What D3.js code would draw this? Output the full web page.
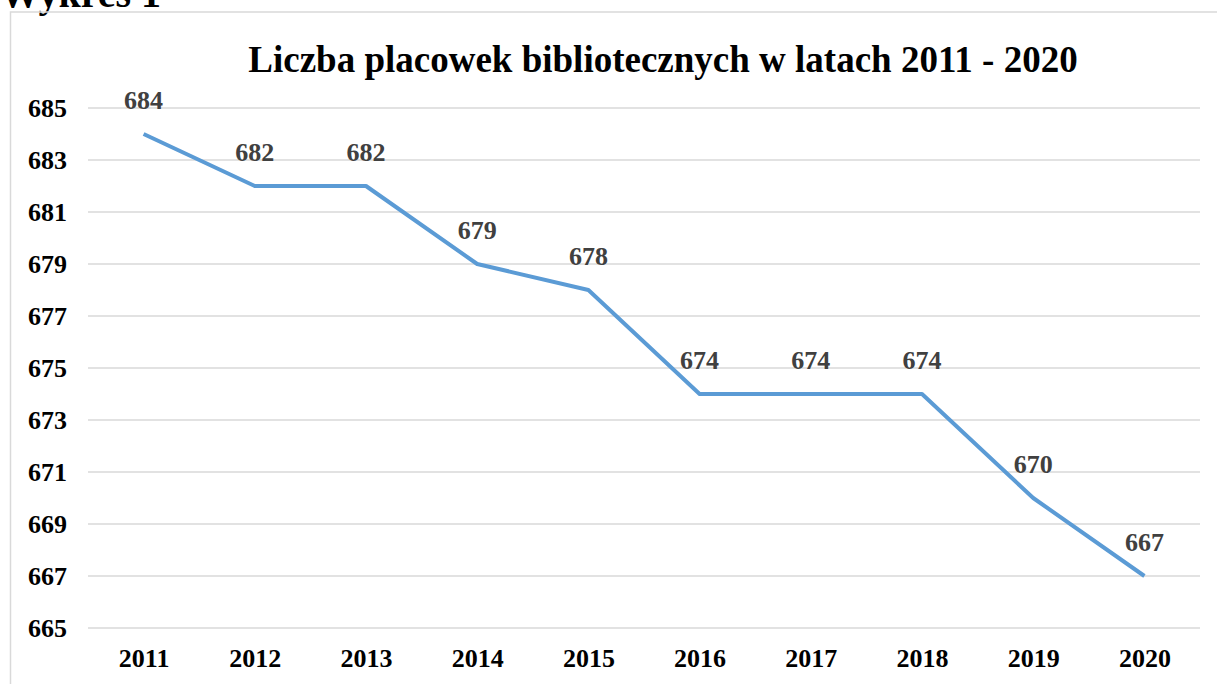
<!DOCTYPE html>
<html>
<head>
<meta charset="utf-8">
<script src="https://cdn.jsdelivr.net/npm/d3@7"></script>
<style>
  body { margin: 0; background: #fff; }
  svg { display: block; font-family: "Liberation Serif", "Times New Roman", serif; }
  .tick text { font-weight: bold; fill: #000; }
</style>
</head>
<body>
<div id="chart"></div>
<script>
// data
var years = ["2011", "2012", "2013", "2014", "2015", "2016", "2017", "2018", "2019", "2020"];
var values = [684, 682, 682, 679, 678, 674, 674, 674, 670, 667];
var yTicks = [665, 667, 669, 671, 673, 675, 677, 679, 681, 683, 685];

var width = 1217, height = 684;
var margin = { top: 108, right: 17, bottom: 56, left: 88 };

var svg = d3.select("#chart").append("svg")
    .attr("width", width)
    .attr("height", height);

// heading above the chart box (cut off at the top)
svg.append("text")
    .attr("x", 0)
    .attr("y", 7)
    .attr("font-size", 40)
    .attr("font-weight", "bold")
    .text("Wykres 1");

// chart border
svg.append("rect")
    .attr("x", 10.5)
    .attr("y", 12)
    .attr("width", width + 20)
    .attr("height", height + 20)
    .attr("fill", "none")
    .attr("stroke", "#d9d9d9")
    .attr("stroke-width", 1.5);

var g = svg.append("g")
    .attr("transform", "translate(" + margin.left + "," + margin.top + ")");

var w = width - margin.left - margin.right,
    h = height - margin.top - margin.bottom;

var x = d3.scalePoint()
    .domain(years)
    .range([0, w])
    .padding(0.5);

var y = d3.scaleLinear()
    .domain([665, 685])
    .range([h, 0]);

// gridlines
g.selectAll(".grid")
    .data(yTicks)
    .enter().append("line")
    .attr("class", "grid")
    .attr("x1", 0)
    .attr("x2", w)
    .attr("y1", function(d) { return y(d); })
    .attr("y2", function(d) { return y(d); })
    .attr("stroke", "#d9d9d9")
    .attr("stroke-width", 1.3);

// y axis labels
var yAxis = g.append("g")
    .call(d3.axisLeft(y).tickValues(yTicks).tickSize(0).tickPadding(21));
yAxis.select(".domain").remove();
yAxis.selectAll("text").attr("font-size", 26).attr("font-family", "Liberation Serif");

// x axis labels
var xAxis = g.append("g")
    .attr("transform", "translate(0," + h + ")")
    .call(d3.axisBottom(x).tickSize(0).tickPadding(21));
xAxis.select(".domain").remove();
xAxis.selectAll("text").attr("font-size", 26).attr("font-family", "Liberation Serif");

// line
var line = d3.line()
    .x(function(d, i) { return x(years[i]); })
    .y(function(d) { return y(d); });

g.append("path")
    .datum(values)
    .attr("fill", "none")
    .attr("stroke", "#5b9bd5")
    .attr("stroke-width", 4)
    .attr("stroke-linejoin", "round")
    .attr("d", line);

// value labels
g.selectAll(".lbl")
    .data(values)
    .enter().append("text")
    .attr("class", "lbl")
    .attr("x", function(d, i) { return x(years[i]); })
    .attr("y", function(d) { return y(d) - 25; })
    .attr("text-anchor", "middle")
    .attr("font-size", 26)
    .attr("font-weight", "bold")
    .attr("fill", "#404040")
    .text(function(d) { return d; });

// title
svg.append("text")
    .attr("x", 663)
    .attr("y", 72)
    .attr("text-anchor", "middle")
    .attr("font-size", 37)
    .attr("font-weight", "bold")
    .text("Liczba placowek bibliotecznych w latach 2011 - 2020");
</script>
</body>
</html>
